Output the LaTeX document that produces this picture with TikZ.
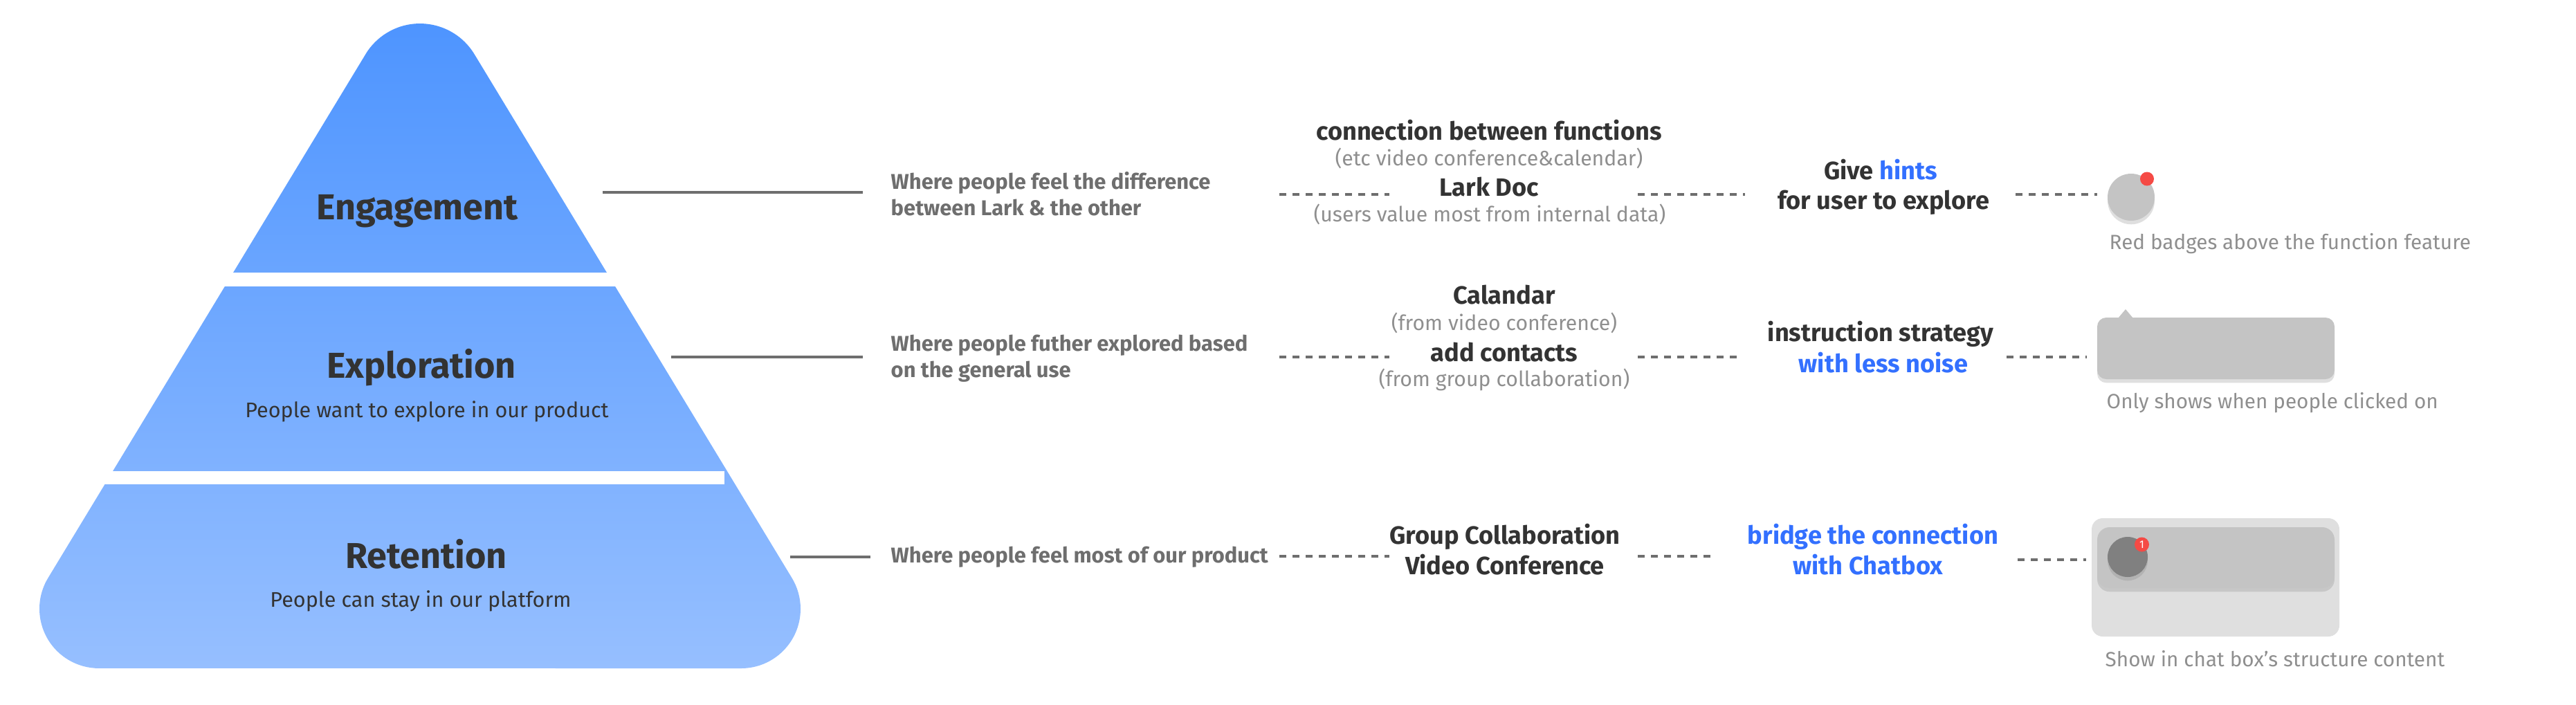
\documentclass[tikz,border=0pt]{standalone}
\usepackage{fontspec}
\setmainfont{Fira Sans}
\usetikzlibrary{positioning,shadows}

\definecolor{pyrtop}{RGB}{77,148,255}
\definecolor{pyrbot}{RGB}{150,191,255}
\definecolor{textdark}{RGB}{51,51,51}
\definecolor{textgray}{RGB}{110,110,110}
\definecolor{textlight}{RGB}{143,143,143}
\definecolor{larkblue}{RGB}{51,112,255}
\definecolor{badgered}{RGB}{245,74,69}
\definecolor{mockgray}{RGB}{196,196,196}
\definecolor{mocklight}{RGB}{223,223,223}
\definecolor{mockdark}{RGB}{128,128,128}

\begin{document}
\begin{tikzpicture}[
    layertitle/.style={font=\fontsize{14.8}{17}\selectfont\bfseries, text=textdark, inner sep=0pt, anchor=base},
    layersub/.style={font=\fontsize{8.7}{11}\selectfont, text=textdark, inner sep=0pt, anchor=base},
    whydesc/.style={font=\fontsize{8.8}{10.8}\selectfont\bfseries, text=textgray, align=left, inner sep=0pt, anchor=base west},
    featuretext/.style={font=\fontsize{10.3}{12}\selectfont\bfseries, text=textdark, inner sep=0pt, anchor=base},
    featurenote/.style={font=\fontsize{8.6}{10}\selectfont, text=textlight, inner sep=0pt, anchor=base},
    mockcaption/.style={font=\fontsize{8.45}{10}\selectfont, text=textlight, inner sep=0pt, anchor=base west},
    solidline/.style={draw=textgray, line width=1.4pt},
    dotline/.style={draw=textgray, line width=1.25pt, dash pattern=on 2.8pt off 2.6pt},
    mockshadow/.style={drop shadow={shadow xshift=0pt, shadow yshift=-1.5pt, opacity=0.25}}
]
\useasboundingbox (0,0) rectangle (37.23,-10.18);

% pyramid
\shade[top color=pyrtop, bottom color=pyrbot] (5.284,-0.783) -- (0.695,-8.353)
    arc[start angle=148.74, end angle=270, radius=0.86] -- (10.71,-9.66)
    arc[start angle=270, end angle=391.26, radius=0.86] -- (6.856,-0.783)
    arc[start angle=31.26, end angle=148.74, radius=0.92] -- cycle;
\fill[white] (3.0,-3.94) rectangle (9.3,-4.14);
\fill[white] (1.3,-6.81) rectangle (10.47,-7.00);

\node[layertitle] (engage) at (6.03,-3.17) {Engagement};
\node[layertitle] (explore) at (6.09,-5.46) {Exploration};
\node[layersub] (exploresub) at (6.17,-6.03) {People want to explore in our product};
\node[layertitle] (retain) at (6.16,-8.21) {Retention};
\node[layersub] (retainsub) at (6.08,-8.77) {People can stay in our platform};

% why rows
\node[whydesc] (why1) at (12.87,-3.11) {Where people feel the difference\\between Lark \& the other};
\node[whydesc] (why2) at (12.87,-5.45) {Where people futher explored based\\on the general use};
\node[whydesc] (why3) at (12.87,-8.13) {Where people feel most of our product};

\coordinate (e1) at (8.71,-2.78);
\coordinate (e1end) at (12.47,-2.78);
\coordinate (e2) at (9.70,-5.16);
\coordinate (e2end) at (12.47,-5.16);
\coordinate (e3) at (11.42,-8.05);
\coordinate (e3end) at (12.58,-8.05);
\draw[solidline] (e1) -- (e1end);
\draw[solidline] (e2) -- (e2end);
\draw[solidline] (e3) -- (e3end);

% functions
\node[featuretext] (conn) at (21.52,-2.02) {connection between functions};
\node[featurenote] (connnote) at (21.52,-2.39) {(etc video conference\&calendar)};
\node[featuretext] (larkdoc) at (21.52,-2.83) {Lark Doc};
\node[featurenote] (larknote) at (21.53,-3.20) {(users value most from internal data)};
\node[featuretext] (calendar) at (21.74,-4.39) {Calandar};
\node[featurenote] (calnote) at (21.74,-4.77) {(from video conference)};
\node[featuretext] (contacts) at (21.74,-5.22) {add contacts};
\node[featurenote] (contactnote) at (21.74,-5.58) {(from group collaboration)};
\node[featuretext] (groupcol) at (21.75,-7.86) {Group Collaboration};
\node[featuretext] (videoconf) at (21.75,-8.30) {Video Conference};

% strategies
\node[featuretext] (give) at (27.18,-2.59) {Give \textcolor{larkblue}{hints}};
\node[featuretext] (foruser) at (27.22,-3.02) {for user to explore};
\node[featuretext] (instr) at (27.18,-4.93) {instruction strategy};
\node[featuretext, text=larkblue] (lessnoise) at (27.22,-5.38) {with less noise};
\node[featuretext, text=larkblue] (bridge) at (27.07,-7.86) {bridge the connection};
\node[featuretext, text=larkblue] (chatbot) at (27.00,-8.30) {with Chatbox};

% mock ups
\node[circle, fill=mockgray, minimum size=0.68cm, inner sep=0pt, mockshadow] (hintdot) at (30.80,-2.85) {};
\node[circle, fill=badgered, minimum size=0.20cm, inner sep=0pt] (hintbadge) at (31.03,-2.585) {};
\node[mockcaption] (hintcap) at (30.48,-3.60) {Red badges above the function feature};

\node[rectangle, rounded corners=0.13cm, fill=mockgray, minimum width=3.43cm, minimum height=0.89cm, mockshadow] (tipbox) at (32.025,-5.035) {};
\fill[mockgray] (30.61,-4.60) -- (30.72,-4.47) -- (30.83,-4.60) -- cycle;
\node[mockcaption] (tipcap) at (30.44,-5.90) {Only shows when people clicked on};

\node[rectangle, rounded corners=0.16cm, fill=mocklight, minimum width=3.58cm, minimum height=1.71cm] (chatbox) at (32.02,-8.345) {};
\node[rectangle, rounded corners=0.18cm, fill=mockgray, minimum width=3.43cm, minimum height=0.88cm, mockshadow] (chatrow) at (32.025,-8.06) {};
\node[circle, fill=mockdark, minimum size=0.58cm, inner sep=0pt, mockshadow] (avatar) at (30.75,-8.05) {};
\node[circle, fill=badgered, minimum size=0.21cm, inner sep=0pt, text=white, font=\fontsize{4.5}{5}\selectfont] (chatbadge) at (30.955,-7.87) {1};
\node[mockcaption] (chatcap) at (30.42,-9.63) {Show in chat box’s structure content};

% dotted links
\coordinate (d1a) at (18.49,-2.81);
\coordinate (d1b) at (20.08,-2.81);
\coordinate (d1c) at (23.67,-2.81);
\coordinate (d1d) at (25.22,-2.81);
\coordinate (d1e) at (29.13,-2.81);
\draw[dotline] (d1a) -- (d1b);
\draw[dotline] (d1c) -- (d1d);
\draw[dotline, shorten >=0.14cm] (d1e) -- (d1e -| hintdot.west);

\coordinate (d2a) at (18.49,-5.16);
\coordinate (d2b) at (20.08,-5.16);
\coordinate (d2c) at (23.67,-5.16);
\coordinate (d2d) at (25.17,-5.16);
\coordinate (d2e) at (29.00,-5.16);
\draw[dotline] (d2a) -- (d2b);
\draw[dotline] (d2c) -- (d2d);
\draw[dotline, shorten >=0.14cm] (d2e) -- (d2e -| tipbox.west);

\coordinate (d3a) at (18.49,-8.04);
\coordinate (d3b) at (20.08,-8.04);
\coordinate (d3c) at (23.67,-8.04);
\coordinate (d3d) at (24.76,-8.04);
\coordinate (d3e) at (29.16,-8.09);
\draw[dotline] (d3a) -- (d3b);
\draw[dotline] (d3c) -- (d3d);
\draw[dotline, shorten >=0.07cm] (d3e) -- (d3e -| chatbox.west);
\end{tikzpicture}
\end{document}
